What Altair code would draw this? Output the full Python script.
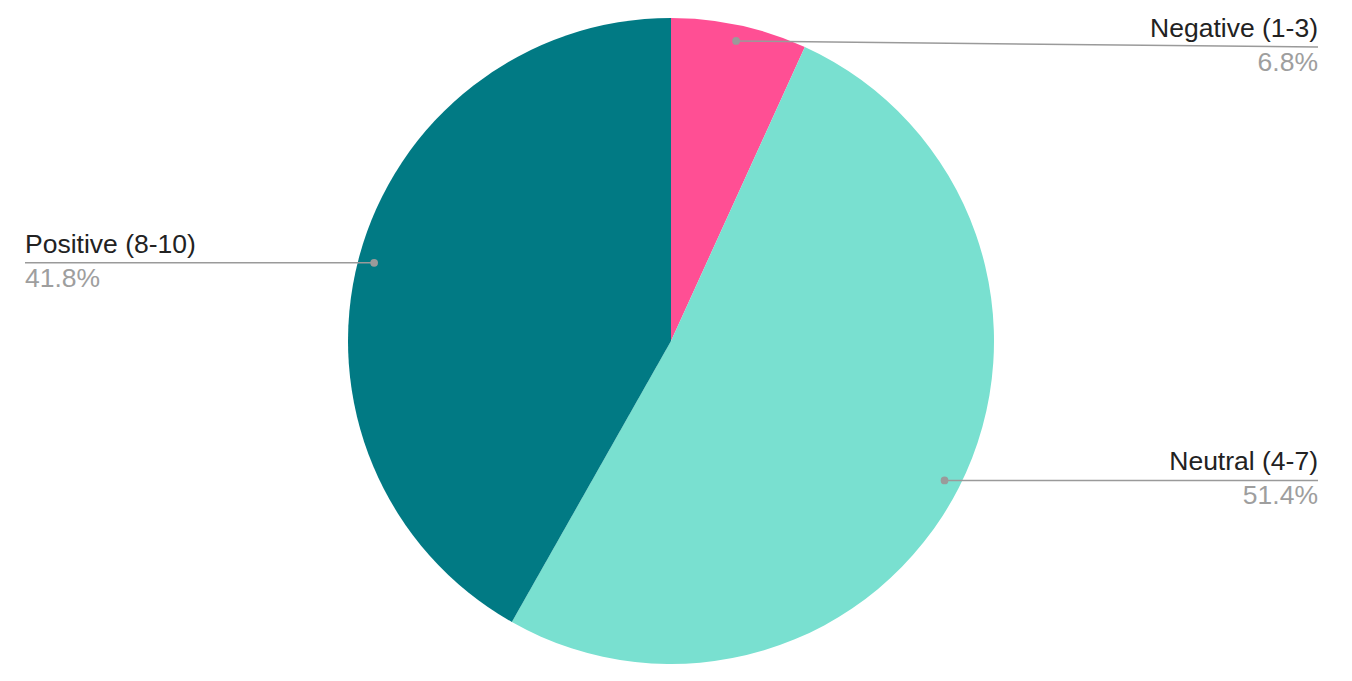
import math
import altair as alt
import pandas as pd

categories = ["Negative (1-3)", "Neutral (4-7)", "Positive (8-10)"]
shares = [6.8, 51.4, 41.8]
colors = ["#FF4F94", "#79E0D0", "#017A84"]

# layout (plot-area pixels; page has 8px margin)
W, H = 1336, 665
CX, CY, R = 663, 333, 323
DOT_R = 307
RIGHT_X, LEFT_X = 1310, 17
FS = 26.5

rows = []
cum = 0.0
total = sum(shares)
for i, (c, s) in enumerate(zip(categories, shares)):
    mid = (cum + s / 2) / total * 2 * math.pi
    cum += s
    dx = CX + DOT_R * math.sin(mid)
    dy = CY - DOT_R * math.cos(mid)
    right = math.sin(mid) > 0
    ly = 39 if i == 0 else dy
    rows.append(dict(
        cat=c, share=s, order=i, pct=f"{s:.1f}%",
        dx=dx, dy=dy, lx=RIGHT_X if right else LEFT_X, ly=ly,
        side="right" if right else "left",
    ))
df = pd.DataFrame(rows)

pie = alt.Chart(df).mark_arc(outerRadius=R).encode(
    theta=alt.Theta("share:Q", stack=True),
    order=alt.Order("order:Q"),
    color=alt.Color("cat:N", scale=alt.Scale(domain=categories, range=colors), legend=None),
    x=alt.value(CX), y=alt.value(CY),
)

xs = alt.X("dx:Q", scale=None)
ys = alt.Y("dy:Q", scale=None)

lines = alt.Chart(df).mark_rule(color="#9a9a9a", strokeWidth=1.5).encode(
    x=xs, y=ys, x2="lx:Q", y2="ly:Q",
)
dots = alt.Chart(df).mark_circle(color="#9a9a9a", opacity=1, size=60).encode(x=xs, y=ys)

right_df = df[df["side"] == "right"]
left_df = df[df["side"] == "left"]

def labels(d, align):
    t1 = alt.Chart(d).mark_text(align=align, baseline="alphabetic", dy=-10, fontSize=FS,
                                font="Liberation Sans", color="#222222").encode(
        x=alt.X("lx:Q", scale=None), y=alt.Y("ly:Q", scale=None), text="cat:N")
    t2 = alt.Chart(d).mark_text(align=align, baseline="alphabetic", dy=24, fontSize=FS,
                                font="Liberation Sans", color="#9e9e9e").encode(
        x=alt.X("lx:Q", scale=None), y=alt.Y("ly:Q", scale=None), text="pct:N")
    return t1 + t2

chart = alt.layer(
    pie, lines, dots, labels(right_df, "right"), labels(left_df, "left")
).properties(
    width=W, height=H, padding=0, autosize=alt.AutoSizeParams(type="none")
).configure_view(stroke=None)

chart.save("out.html", embed_options={"renderer": "svg", "actions": False})
